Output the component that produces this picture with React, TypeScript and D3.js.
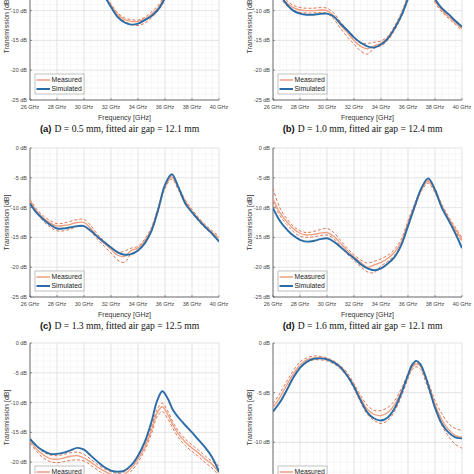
import React from 'react';
import * as d3 from 'd3';

// ---------- data ----------
const FREQ_STD = [26, 26.5, 27, 27.5, 28, 28.5, 29, 29.5, 30, 30.5, 31, 31.5, 32, 32.5, 33, 33.5, 34, 34.5, 35, 35.5, 36, 36.5, 37, 37.5, 38, 38.5, 39, 39.5, 40];

const SIM_A = [-3.0, -2.6, -2.3, -2.2, -2.3, -2.6, -3.1, -3.8, -4.6, -5.5, -6.5, -7.6, -9.4, -11.1, -12.0, -12.35, -12.2, -11.6, -10.9, -9.8, -7.9, -5.5, -3.6, -2.6, -2.3, -2.6, -3.2, -4.0, -4.8];
const MEAS_A = [-2.8, -2.4, -2.1, -2.0, -2.1, -2.4, -2.9, -3.6, -4.4, -5.3, -6.3, -7.4, -9.1, -10.7, -11.5, -11.8, -11.8, -11.4, -10.6, -9.5, -7.7, -5.4, -3.6, -2.6, -2.3, -2.6, -3.2, -4.0, -4.8];
const MEAS_HI_A = [-2.6, -2.2, -1.9, -1.8, -1.9, -2.2, -2.7, -3.4, -4.2, -5.1, -6.1, -7.2, -8.9, -10.4, -11.2, -11.5, -11.6, -11.1, -10.2, -9.1, -7.3, -5.1, -3.4, -2.4, -2.1, -2.4, -3.0, -3.8, -4.6];
const MEAS_LO_A = [-3.0, -2.6, -2.3, -2.2, -2.3, -2.6, -3.1, -3.8, -4.6, -5.5, -6.5, -7.6, -9.3, -10.9, -11.8, -12.3, -12.5, -12.1, -11.2, -10.0, -8.2, -5.8, -3.8, -2.8, -2.5, -2.8, -3.4, -4.2, -5.0];

const SIM_B = [-6.0, -7.3, -8.9, -10.0, -10.5, -10.7, -10.7, -10.55, -10.5, -11.0, -12.2, -13.3, -14.5, -15.4, -16.0, -16.2, -15.7, -14.7, -13.0, -10.9, -8.0, -5.2, -3.2, -5.0, -8.0, -9.6, -10.6, -11.7, -12.7];
const MEAS_B = [-6.0, -7.4, -8.7, -9.5, -9.9, -10.0, -10.0, -9.9, -10.0, -10.9, -12.4, -13.7, -15.0, -16.0, -16.4, -15.9, -15.5, -14.6, -12.9, -10.7, -7.8, -5.2, -3.4, -5.2, -8.3, -9.9, -11.0, -12.0, -13.0];
const MEAS_HI_B = [-5.6, -7.0, -8.3, -9.1, -9.5, -9.6, -9.6, -9.5, -9.6, -10.4, -11.9, -13.2, -14.6, -15.5, -15.5, -15.3, -15.1, -14.3, -12.6, -10.4, -7.5, -5.0, -3.2, -5.0, -8.0, -9.6, -10.7, -11.7, -12.7];
const MEAS_LO_B = [-6.4, -7.8, -9.1, -9.9, -10.3, -10.4, -10.4, -10.3, -10.5, -11.4, -13.0, -14.4, -15.6, -16.8, -17.3, -16.3, -15.9, -15.0, -13.3, -11.1, -8.2, -5.5, -3.6, -5.5, -8.6, -10.2, -11.3, -12.3, -13.3];

const SIM_C = [-9.3, -10.9, -12.0, -12.9, -13.5, -13.5, -13.3, -13.1, -13.1, -13.9, -14.9, -15.8, -16.7, -17.5, -17.9, -17.8, -17.2, -16.0, -13.9, -10.3, -6.2, -4.4, -6.6, -9.3, -10.8, -12.1, -13.3, -14.4, -15.7];
const MEAS_C = [-8.8, -10.6, -11.8, -12.6, -13.1, -13.0, -12.8, -12.5, -12.5, -13.5, -14.9, -16.0, -17.0, -18.0, -18.2, -17.2, -16.8, -15.6, -13.6, -10.2, -6.5, -4.9, -6.8, -9.0, -10.6, -12.0, -13.2, -14.2, -15.1];
const MEAS_HI_C = [-8.6, -10.3, -11.4, -12.2, -12.7, -12.6, -12.3, -12.0, -12.0, -13.0, -14.5, -15.6, -16.6, -17.5, -17.3, -16.8, -16.5, -15.3, -13.3, -9.9, -6.3, -4.7, -6.5, -8.7, -10.3, -11.7, -12.9, -13.9, -14.8];
const MEAS_LO_C = [-9.0, -10.9, -12.3, -13.3, -13.9, -13.9, -13.6, -13.2, -13.2, -14.0, -15.3, -16.5, -17.6, -18.8, -19.2, -17.7, -17.2, -16.0, -14.0, -10.6, -6.8, -5.2, -7.1, -9.3, -10.9, -12.3, -13.5, -14.5, -15.5];

const SIM_D = [-10.1, -12.2, -13.6, -14.7, -15.4, -15.7, -15.6, -15.3, -15.15, -15.7, -16.6, -17.6, -18.5, -19.5, -20.2, -20.5, -20.2, -19.4, -18.3, -16.3, -13.1, -9.8, -6.7, -5.1, -7.0, -10.0, -12.1, -14.3, -16.8];
const MEAS_D = [-8.5, -10.8, -12.3, -13.5, -14.3, -14.6, -14.5, -14.3, -14.2, -14.8, -16.0, -17.2, -18.3, -19.2, -20.0, -19.6, -19.2, -18.5, -17.5, -15.8, -12.6, -9.6, -6.9, -5.6, -7.2, -9.7, -11.8, -13.6, -15.4];
const MEAS_HI_D = [-6.8, -10.0, -11.8, -13.1, -13.9, -14.2, -14.0, -13.7, -13.5, -14.2, -15.5, -16.8, -17.9, -18.8, -19.3, -19.0, -18.6, -18.0, -17.0, -15.3, -12.2, -9.3, -6.7, -5.4, -7.0, -9.4, -11.5, -13.3, -15.1];
const MEAS_LO_D = [-9.0, -11.3, -12.8, -14.0, -14.8, -15.0, -14.9, -14.7, -14.6, -15.2, -16.5, -17.8, -18.9, -19.9, -20.8, -20.9, -19.8, -19.0, -18.0, -16.3, -13.1, -10.0, -7.2, -5.9, -7.5, -10.0, -12.1, -13.9, -15.8];

const FREQ_E = [26, 26.5, 27, 27.5, 28, 28.5, 29, 29.5, 30, 30.5, 31, 31.5, 32, 32.5, 33, 33.5, 34, 34.5, 35, 35.4, 35.8, 36.2, 36.6, 37, 37.5, 38, 38.5, 39, 39.5, 40];
const SIM_E = [-16.1, -17.3, -18.1, -18.6, -18.6, -18.4, -18.0, -17.6, -17.9, -18.9, -19.9, -20.8, -21.4, -21.6, -21.4, -20.5, -18.9, -16.6, -13.2, -9.8, -8.1, -9.3, -11.3, -12.5, -13.8, -15.0, -16.3, -17.6, -19.2, -21.6];
const MEAS_E = [-16.5, -17.8, -18.8, -19.4, -19.5, -19.3, -19.0, -18.9, -19.3, -20.0, -20.8, -21.5, -22.0, -22.3, -22.0, -21.0, -19.5, -17.5, -14.6, -11.8, -10.7, -12.0, -13.8, -15.3, -16.6, -17.6, -18.5, -19.5, -20.4, -21.8];
const MEAS_HI_E = [-16.2, -17.4, -18.3, -18.8, -18.9, -18.7, -18.4, -18.3, -18.7, -19.5, -20.4, -21.1, -21.6, -21.9, -21.6, -20.6, -19.1, -17.0, -14.0, -11.2, -10.1, -11.4, -13.3, -14.8, -16.1, -17.1, -18.0, -19.0, -19.9, -20.6];
const MEAS_LO_E = [-16.8, -18.2, -19.3, -19.9, -20.1, -19.9, -19.7, -19.6, -19.8, -20.5, -21.3, -22.0, -22.5, -22.8, -22.5, -21.5, -20.0, -18.0, -15.2, -12.4, -11.5, -12.7, -14.4, -15.9, -17.2, -18.2, -19.1, -20.1, -21.0, -22.3];

const FREQ_F = [26, 26.5, 27, 27.5, 28, 28.5, 29, 29.5, 30, 30.5, 31, 31.5, 32, 32.5, 33, 33.5, 34, 34.5, 35, 35.5, 36, 36.3, 36.6, 36.9, 37.2, 37.6, 38, 38.5, 39, 39.5, 40];
const SIM_F = [-6.9, -6.0, -4.8, -3.5, -2.5, -1.9, -1.6, -1.55, -1.65, -1.95, -2.45, -3.3, -4.4, -5.8, -7.0, -7.6, -7.8, -7.5, -6.6, -5.1, -3.2, -2.2, -1.8, -2.1, -3.0, -4.7, -6.5, -8.1, -9.0, -9.5, -9.6];
const MEAS_F = [-6.5, -5.5, -4.3, -3.1, -2.2, -1.7, -1.5, -1.5, -1.6, -1.9, -2.4, -3.2, -4.3, -5.6, -6.7, -7.2, -7.3, -7.0, -6.2, -4.9, -3.3, -2.5, -2.1, -2.3, -3.2, -4.6, -6.2, -7.7, -8.7, -9.3, -9.5];
const MEAS_HI_F = [-6.1, -5.1, -3.9, -2.8, -1.9, -1.5, -1.3, -1.35, -1.5, -1.8, -2.3, -3.0, -4.1, -5.3, -6.3, -6.8, -6.8, -6.5, -5.8, -4.6, -3.1, -2.3, -2.0, -2.2, -3.0, -4.3, -5.8, -7.1, -8.1, -8.6, -8.8];
const MEAS_LO_F = [-6.9, -5.9, -4.7, -3.4, -2.4, -1.9, -1.7, -1.7, -1.8, -2.1, -2.6, -3.4, -4.6, -6.0, -7.2, -7.8, -8.1, -7.8, -6.9, -5.4, -3.6, -2.7, -2.4, -2.6, -3.5, -5.0, -6.6, -8.3, -9.4, -10.2, -10.6];

const X_TICKS = [26, 28, 30, 32, 34, 36, 38, 40];
const Y_TICKS_25 = [0, -5, -10, -15, -20, -25];
const Y_TICKS_15 = [0, -5, -10, -15];
const LEGEND_LABELS = ['Measured', 'Simulated'];
const X_LABEL = 'Frequency [GHz]';
const Y_LABEL = 'Transmission [dB]';

const PANELS = [
  { key: 'a', label: '(a)', caption: 'D = 0.5 mm, fitted air gap = 12.1 mm', col: 0, row: 0, yMin: -25, yTicks: Y_TICKS_25, freq: FREQ_STD, sim: SIM_A, meas: MEAS_A, hi: MEAS_HI_A, lo: MEAS_LO_A },
  { key: 'b', label: '(b)', caption: 'D = 1.0 mm, fitted air gap = 12.4 mm', col: 1, row: 0, yMin: -25, yTicks: Y_TICKS_25, freq: FREQ_STD, sim: SIM_B, meas: MEAS_B, hi: MEAS_HI_B, lo: MEAS_LO_B },
  { key: 'c', label: '(c)', caption: 'D = 1.3 mm, fitted air gap = 12.5 mm', col: 0, row: 1, yMin: -25, yTicks: Y_TICKS_25, freq: FREQ_STD, sim: SIM_C, meas: MEAS_C, hi: MEAS_HI_C, lo: MEAS_LO_C },
  { key: 'd', label: '(d)', caption: 'D = 1.6 mm, fitted air gap = 12.1 mm', col: 1, row: 1, yMin: -25, yTicks: Y_TICKS_25, freq: FREQ_STD, sim: SIM_D, meas: MEAS_D, hi: MEAS_HI_D, lo: MEAS_LO_D },
  { key: 'e', label: '', caption: '', col: 0, row: 2, yMin: -25, yTicks: Y_TICKS_25, freq: FREQ_E, sim: SIM_E, meas: MEAS_E, hi: MEAS_HI_E, lo: MEAS_LO_E },
  { key: 'f', label: '', caption: '', col: 1, row: 2, yMin: -15, yTicks: Y_TICKS_15, freq: FREQ_F, sim: SIM_F, meas: MEAS_F, hi: MEAS_HI_F, lo: MEAS_LO_F },
];

// ---------- layout / style ----------
const W = 474;
const H = 474;
const COL_X = [30, 273];
const ROW_TOP = [-49, 148, 343];
const PLOT_W = 189;
const PLOT_H = 149;

const BLUE = '#2b6ca6';
const MEAS_COL = '#ee9c7c';
const DASH_COL = '#d8653f';
const SANS = '"Liberation Sans", Arial, Helvetica, sans-serif';
const SERIF = '"Liberation Serif", "Times New Roman", serif';

function Panel({ p }: { p: any }) {
  const x0 = COL_X[p.col];
  const top = ROW_TOP[p.row];
  const bottom = top + PLOT_H;
  const x = d3.scaleLinear().domain([26, 40]).range([x0, x0 + PLOT_W]);
  const y = d3.scaleLinear().domain([p.yMin, 0]).range([bottom, top]);
  const line = (vals: number[]) =>
    d3
      .line<number>()
      .x((_, i) => x(p.freq[i]))
      .y((v) => y(v))
      .curve(d3.curveCatmullRom.alpha(0.5))(vals) || '';

  const minorX = d3.range(26, 40.001, 0.5);
  const minorY = d3.range(p.yMin, 0.001, 1);
  const clipId = `clip-${p.key}`;
  const legX = x0 + 5;
  const legY = bottom - 26;

  return (
    <g>
      <defs>
        <clipPath id={clipId}>
          <rect x={x0} y={top} width={PLOT_W} height={PLOT_H} />
        </clipPath>
      </defs>
      {/* minor grid */}
      {minorX.map((v) => (
        <line key={'mx' + v} x1={x(v)} x2={x(v)} y1={top} y2={bottom} stroke="#f1f1f1" strokeWidth={0.6} />
      ))}
      {minorY.map((v) => (
        <line key={'my' + v} x1={x0} x2={x0 + PLOT_W} y1={y(v)} y2={y(v)} stroke="#f1f1f1" strokeWidth={0.6} />
      ))}
      {/* major grid */}
      {X_TICKS.map((v) => (
        <line key={'gx' + v} x1={x(v)} x2={x(v)} y1={top} y2={bottom} stroke="#dedede" strokeWidth={0.7} />
      ))}
      {p.yTicks.map((v: number) => (
        <line key={'gy' + v} x1={x0} x2={x0 + PLOT_W} y1={y(v)} y2={y(v)} stroke="#dedede" strokeWidth={0.7} />
      ))}
      {/* axes */}
      <line x1={x0} x2={x0} y1={top} y2={bottom} stroke="#555" strokeWidth={0.8} />
      <line x1={x0} x2={x0 + PLOT_W} y1={bottom} y2={bottom} stroke="#555" strokeWidth={0.8} />
      {X_TICKS.map((v) => (
        <line key={'tx' + v} x1={x(v)} x2={x(v)} y1={bottom} y2={bottom - 2} stroke="#555" strokeWidth={0.6} />
      ))}
      {p.yTicks.map((v: number) => (
        <line key={'ty' + v} x1={x0} x2={x0 + 2} y1={y(v)} y2={y(v)} stroke="#555" strokeWidth={0.6} />
      ))}
      {/* tick labels */}
      {X_TICKS.map((v) => (
        <text key={'lx' + v} x={x(v)} y={bottom + 9} fontSize={5.5} fill="#444" textAnchor="middle" fontFamily={SANS}>
          {`${v} GHz`}
        </text>
      ))}
      {p.yTicks.map((v: number) => (
        <text key={'ly' + v} x={x0 - 3} y={y(v) + 2} fontSize={5.5} fill="#444" textAnchor="end" fontFamily={SANS}>
          {`${v} dB`}
        </text>
      ))}
      <text x={x0 + PLOT_W / 2} y={bottom + 19.5} fontSize={7} fill="#333" textAnchor="middle" fontFamily={SANS}>
        {X_LABEL}
      </text>
      <text
        transform={`translate(${x0 - 21},${top + PLOT_H / 2}) rotate(-90)`}
        fontSize={7}
        fill="#333"
        textAnchor="middle"
        fontFamily={SANS}
      >
        {Y_LABEL}
      </text>
      {/* curves */}
      <g clipPath={`url(#${clipId})`}>
        <path d={line(p.hi)} fill="none" stroke={DASH_COL} strokeWidth={0.9} strokeDasharray="3,2" />
        <path d={line(p.lo)} fill="none" stroke={DASH_COL} strokeWidth={0.9} strokeDasharray="3,2" />
        <path d={line(p.meas)} fill="none" stroke={MEAS_COL} strokeWidth={1.3} />
        <path d={line(p.sim)} fill="none" stroke={BLUE} strokeWidth={1.9} />
      </g>
      {/* legend */}
      <rect x={legX} y={legY} width={49} height={20} fill="#fff" stroke="#999" strokeWidth={0.6} />
      <line x1={legX + 1.5} x2={legX + 15} y1={legY + 6} y2={legY + 6} stroke={MEAS_COL} strokeWidth={1.5} />
      <line x1={legX + 1.5} x2={legX + 15} y1={legY + 15} y2={legY + 15} stroke={BLUE} strokeWidth={2} />
      <text x={legX + 16.5} y={legY + 8.3} fontSize={6.8} fill="#222" fontFamily={SANS}>
        {LEGEND_LABELS[0]}
      </text>
      <text x={legX + 16.5} y={legY + 17.3} fontSize={6.8} fill="#222" fontFamily={SANS}>
        {LEGEND_LABELS[1]}
      </text>
      {/* caption */}
      {p.label && (
        <text x={x0 + PLOT_W / 2 - 5} y={bottom + 32} textAnchor="middle" fill="#111">
          <tspan fontFamily={SANS} fontWeight="bold" fontSize={9.5}>
            {p.label}
          </tspan>
          <tspan fontFamily={SERIF} fontSize={9.6} dx={3}>
            {p.caption}
          </tspan>
        </text>
      )}
    </g>
  );
}

export default function App() {
  return (
    <svg
      width={W}
      height={H}
      viewBox={`0 0 ${W} ${H}`}
      style={{ position: 'absolute', left: 0, top: 0, background: '#fff', display: 'block' }}
    >
      <rect x={0} y={0} width={W} height={H} fill="#fff" />
      {PANELS.map((p) => (
        <Panel key={p.key} p={p} />
      ))}
    </svg>
  );
}
